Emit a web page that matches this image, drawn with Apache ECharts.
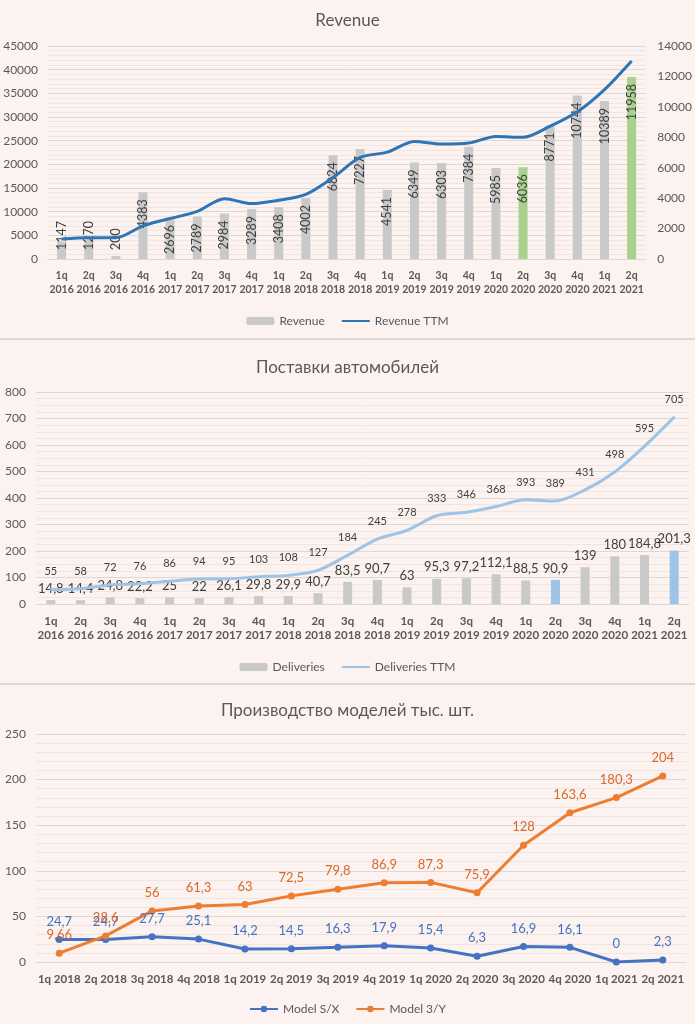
<!DOCTYPE html>
<html>
<head>
<meta charset="utf-8">
<script src="https://cdn.jsdelivr.net/npm/echarts@6/dist/echarts.min.js"></script>
<style>
html,body{margin:0;padding:0;background:#fcf2ef;}
#c{width:695px;height:1024px;}
</style>
</head>
<body>
<div id="c"></div>
<script>
// ---- Panel 1: Revenue ----
const revCategories = ['1q\n2016','2q\n2016','3q\n2016','4q\n2016','1q\n2017','2q\n2017','3q\n2017','4q\n2017','1q\n2018','2q\n2018','3q\n2018','4q\n2018','1q\n2019','2q\n2019','3q\n2019','4q\n2019','1q\n2020','2q\n2020','3q\n2020','4q\n2020','1q\n2021','2q\n2021'];
const revenue = [1147,1270,200,4383,2696,2789,2984,3289,3408,4002,6824,7227,4541,6349,6303,7384,5985,6036,8771,10744,10389,11958];
const revenueTTM = [4200,4500,4500,7000,8550,10050,12750,11700,12400,13650,17200,21450,22580,24850,24300,24500,25900,25700,28050,31100,35800,41850];
const revLeftTicks = {min:0,max:45000,interval:5000};
const revRightTicks = {min:0,max:14000,interval:2000};

// ---- Panel 2: Deliveries ----
const delCategories = revCategories;
const deliveries = [14.8,14.4,24.8,22.2,25,22,26.1,29.8,29.9,40.7,83.5,90.7,63,95.3,97.2,112.1,88.5,90.9,139,180,184.8,201.3];
const deliveriesTTM = [55,58,72,76,86,94,95,103,108,127,184,245,278,333,346,368,393,389,431,498,595,705];
const delTicks = {min:0,max:800,interval:100};

// ---- Panel 3: Production ----
const prodCategories = ['1q 2018','2q 2018','3q 2018','4q 2018','1q 2019','2q 2019','3q 2019','4q 2019','1q 2020','2q 2020','3q 2020','4q 2020','1q 2021','2q 2021'];
const modelSX = [24.7,24.7,27.7,25.1,14.2,14.5,16.3,17.9,15.4,6.3,16.9,16.1,0,2.3];
const model3Y = [9.66,28.6,56,61.3,63,72.5,79.8,86.9,87.3,75.9,128,163.6,180.3,204];
const prodTicks = {min:0,max:250,interval:50};

const highlighted = ['2q\n2020','2q\n2021'];

const FONT = 'Lato, "Noto Sans", sans-serif';
const TXT = '#595959';
const LBL = '#404040';
const GRID = '#d9d9d9';
const MINOR = '#efe6e3';
const comma = v => String(v).replace('.', ',');

const revBarData = revenue.map((v,i) => {
  const o = {value:v};
  if (highlighted.includes(revCategories[i])) o.itemStyle = {color:'#a9d18e'};
  if (v < 2000) o.label = {position:'insideBottom', align:'left', distance:9};
  return o;
});
const delBarData = deliveries.map((v,i) => {
  const o = {value:v};
  if (highlighted.includes(delCategories[i])) o.itemStyle = {color:'#9dc3e6'};
  return o;
});

function xAx(grid, data, fs){
  return {
    type:'category', gridIndex:grid, data:data,
    axisLine:{show:true, lineStyle:{color:GRID, width:1}},
    axisTick:{show:false},
    axisLabel:{interval:0, color:TXT, fontFamily:FONT, fontWeight:'bold', fontSize:fs, lineHeight:14, margin:10}
  };
}
function yAx(grid, t, opts){
  return Object.assign({
    type:'value', gridIndex:grid, min:t.min, max:t.max, interval:t.interval,
    axisLine:{show:false}, axisTick:{show:false},
    axisLabel:{color:TXT, fontFamily:FONT, fontSize:12, margin:10, formatter:v=>String(v)},
    splitLine:{show:true, lineStyle:{color:GRID, width:1}},
    minorTick:{show:false, splitNumber:5},
    minorSplitLine:{show:true, lineStyle:{color:MINOR, width:1}}
  }, opts||{});
}
const legendText = {color:TXT, fontSize:12, fontFamily:FONT};
const noSym = {opacity:0};

const chart = echarts.init(document.getElementById('c'), null, {renderer:'canvas'});
chart.setOption({
  backgroundColor:'#fcf2ef',
  animation:false,
  textStyle:{fontFamily:FONT},
  title:[
    {text:'Revenue', left:'center', top:7, textStyle:{fontSize:17, fontWeight:'normal', color:TXT, fontFamily:FONT}},
    {text:'Поставки автомобилей', left:'center', top:354, textStyle:{fontSize:17, fontWeight:'normal', color:TXT, fontFamily:FONT}},
    {text:'Производство моделей тыс. шт.', left:'center', top:697, textStyle:{fontSize:17, fontWeight:'normal', color:TXT, fontFamily:FONT}}
  ],
  legend:[
    {data:['Revenue',{name:'Revenue TTM', itemStyle:noSym}], top:310, left:'center', itemWidth:28, itemHeight:8, itemGap:16, textStyle:legendText},
    {data:['Deliveries',{name:'Deliveries TTM', itemStyle:noSym}], top:656, left:'center', itemWidth:28, itemHeight:8, itemGap:16, textStyle:legendText},
    {data:['Model S/X','Model 3/Y'], top:998, left:'center', itemWidth:28, itemHeight:8, itemGap:16, textStyle:legendText}
  ],
  grid:[
    {left:48, right:42, top:46, height:213},
    {left:36, right:6, top:392, height:212},
    {left:36, right:9, top:734, height:228}
  ],
  xAxis:[ xAx(0, revCategories, 10.5), xAx(1, delCategories, 11.5), xAx(2, prodCategories, 11.5) ],
  yAxis:[
    yAx(0, revLeftTicks),
    yAx(0, revRightTicks, {position:'right', splitLine:{show:false}, minorSplitLine:{show:false}, axisLabel:{color:TXT, fontFamily:FONT, fontSize:12, margin:12, formatter:v=>String(v)}}),
    yAx(1, delTicks, {minorTick:{show:false, splitNumber:4}}),
    yAx(2, prodTicks)
  ],
  graphic:[
    {type:'line', shape:{x1:0,y1:339,x2:695,y2:339}, style:{stroke:'#d9d9d9', lineWidth:2}, silent:true},
    {type:'line', shape:{x1:0,y1:684,x2:695,y2:684}, style:{stroke:'#d9d9d9', lineWidth:2}, silent:true}
  ],
  series:[
    {name:'Revenue', type:'bar', xAxisIndex:0, yAxisIndex:1, data:revBarData, barWidth:9,
     itemStyle:{color:'#c9c9c9'},
     label:{show:true, position:'insideTop', rotate:90, align:'right', verticalAlign:'middle', distance:7, color:LBL, fontSize:12.5, fontFamily:FONT}},
    {name:'Revenue TTM', type:'line', xAxisIndex:0, yAxisIndex:0, data:revenueTTM, smooth:0.3, symbol:'none',
     lineStyle:{color:'#2e75b6', width:3}, itemStyle:{color:'#2e75b6'}, z:5},
    {name:'Deliveries', type:'bar', xAxisIndex:1, yAxisIndex:2, data:delBarData, barWidth:9,
     itemStyle:{color:'#c9c9c9'},
     label:{show:true, position:'top', distance:5, color:LBL, fontSize:13, fontFamily:FONT, formatter:p=>comma(p.value)}},
    {name:'Deliveries TTM', type:'line', xAxisIndex:1, yAxisIndex:2, data:deliveriesTTM, smooth:0.3, symbol:'circle', symbolSize:2, showSymbol:true,
     lineStyle:{color:'#9dc3e6', width:3}, itemStyle:{color:'#9dc3e6'}, z:3,
     label:{show:true, position:'top', distance:11, color:LBL, fontSize:11, fontFamily:FONT}},
    {name:'Model S/X', type:'line', xAxisIndex:2, yAxisIndex:3, data:modelSX, symbol:'circle', symbolSize:7,
     lineStyle:{color:'#4472c4', width:3}, itemStyle:{color:'#4472c4'},
     label:{show:true, position:'top', distance:8, color:'#4472c4', fontSize:13, fontFamily:FONT, formatter:p=>comma(p.value)}},
    {name:'Model 3/Y', type:'line', xAxisIndex:2, yAxisIndex:3, data:model3Y, symbol:'circle', symbolSize:7,
     lineStyle:{color:'#ed7d31', width:3}, itemStyle:{color:'#ed7d31'},
     label:{show:true, position:'top', distance:8, color:'#d8692a', fontSize:13, fontFamily:FONT, formatter:p=>comma(p.value)}}
  ]
});
</script>
</body>
</html>
